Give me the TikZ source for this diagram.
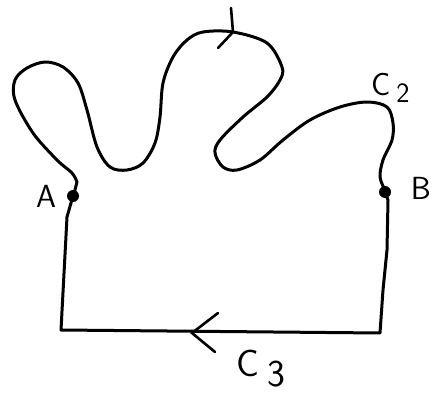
\documentclass[tikz,border=0pt]{standalone}
\usepackage{fontspec}
\tikzset{
  curve/.style={line width=3pt, line cap=round, line join=round},
  dotpt/.style={circle, fill=black, inner sep=0pt, minimum size=12pt},
  lbl/.style={font=\fontsize{32}{34}\selectfont\sffamily, inner sep=0pt},
  tipstroke/.style={line width=2.6pt, line cap=round}
}
\begin{document}
\begin{tikzpicture}[x=1pt,y=-1pt]
\useasboundingbox (0,0) rectangle (436,393);
% points
\node[dotpt] (A) at (73,196) {};
\node[dotpt] (B) at (385,192) {};
\coordinate (BL) at (61,330);
\coordinate (BR) at (380,333);
\coordinate (L1) at (67,217);
% upper curve C2 from A to B
\draw[curve] (A.center) to[out=-80,in=80,looseness=0.3] (77,182)
  plot[smooth, tension=0.55] coordinates {
  (77,182) (72,173) (57,160) (33,133) (15,100) (15,80) (27,68) (45,62) (63,67)
  (78,83) (87,110) (97,147) (110,167) (127,170) (143,163) (155,143) (160,117)
  (163,83) (173,57) (187,40) (203,32) (233,32) (267,43) (282,67) (280,80)
  (267,97) (243,117) (220,140) (215,153) (223,167) (237,170) (260,160)
  (283,140) (310,120) (340,107) (367,102) (387,107) (393,123) (392,140)
  (383,160) (380,177) (385,190)};
% lower path C3 from B to A
\draw[curve] (B.center) -- (388,200) -- (387,250) -- (383,290) -- (BR) -- (BL) -- (L1) -- (A.center);
% arrowheads
\coordinate (T1) at (233,32);
\draw[tipstroke] (231,8) -- (T1) -- (218,48);
\coordinate (T2) at (192,333);
\draw[tipstroke] (218,313) -- (T2) -- (215,352);
% labels
\node[lbl] (lA) at (46,196) {A};
\node[lbl] (lB) at (421,188) {B};
\node[lbl, anchor=base west] (lC2) at (371,96) {C\hspace{6pt}\raisebox{-6pt}{\fontsize{28}{30}\selectfont 2}};
\node[lbl, anchor=base west] (lC3) at (236,376) {\fontsize{38}{40}\selectfont C\hspace{8pt}\raisebox{-10pt}{3}};
\end{tikzpicture}
\end{document}
